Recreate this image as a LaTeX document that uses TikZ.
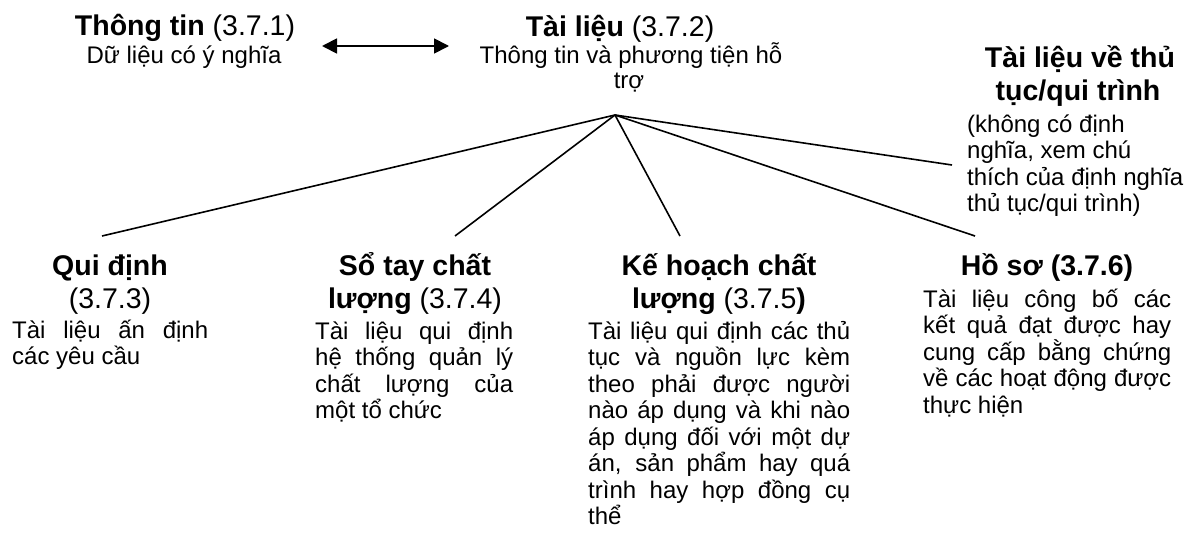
\documentclass[tikz,border=0pt]{standalone}
\usepackage{fontspec}
\setmainfont{Liberation Sans}
\usetikzlibrary{arrows.meta}
\newcommand\ttlfont{\fontsize{28.5}{33}\selectfont}
\newcommand\bdfont{\fontsize{24}{26.5}\selectfont}
\newcommand\jl[2]{\makebox[#1][s]{#2}}
\begin{document}
\begin{tikzpicture}[x=1pt,y=-1pt,
  ttl/.style={font=\ttlfont, anchor=base, inner sep=0pt},
  bdc/.style={font=\bdfont, anchor=base, inner sep=0pt},
  bdl/.style={font=\bdfont, anchor=base west, inner sep=0pt},
  conn/.style={line width=1.6pt},
  dbl/.style={line width=1.8pt, {Triangle[length=15pt,width=15pt]}-{Triangle[length=15pt,width=15pt]}}]
\useasboundingbox (0,0) rectangle (1191,538);
% top left
\node[ttl] (A1) at (185,35) {\textbf{Thông tin} (3.7.1)};
\node[bdc] (A2) at (184,63) {Dữ liệu có ý nghĩa};
% top middle
\node[ttl] (B1) at (620,36) {\textbf{Tài liệu} (3.7.2)};
\node[bdc] (B2) at (631,63) {Thông tin và phương tiện hỗ};
\node[bdc] (B3) at (629,88) {trợ};
% arrow
\coordinate (arrL) at (322,46);
\coordinate (arrR) at (449,46);
\draw[dbl] (arrL) -- (arrR);
% top right
\node[ttl] (C1) at (1080,67) {\textbf{Tài liệu về thủ}};
\node[ttl] (C2) at (1078,100) {\textbf{tục/qui trình}};
\node[bdl] (C3) at (967,132) {(không có định};
\node[bdl] (C4) at (967,158.5) {nghĩa, xem chú};
\node[bdl] (C5) at (967,185) {thích của định nghĩa};
\node[bdl] (C6) at (967,211.5) {thủ tục/qui trình)};
% hub and connectors
\coordinate (hub) at (615,115);
\coordinate (eC) at (952,165);
\coordinate (eD) at (102,236);
\coordinate (eE) at (455,236);
\coordinate (eF) at (680,236);
\coordinate (eG) at (975,236);
\foreach \e in {eC,eD,eE,eF,eG} \draw[conn] (hub) -- (\e);
% Qui dinh
\node[ttl] (D1) at (110,275) {\textbf{Qui định}};
\node[ttl] (D2) at (110,308) {(3.7.3)};
\node[bdl] (D3) at (12,338) {\jl{196pt}{Tài liệu ấn định}};
\node[bdl] (D4) at (12,364.5) {các yêu cầu};
% So tay
\node[ttl] (E1) at (415,275) {\textbf{Sổ tay chất}};
\node[ttl] (E2) at (415,308) {\textbf{lượng} (3.7.4)};
\node[bdl] (E3) at (315,339) {\jl{198pt}{Tài liệu qui định}};
\node[bdl] (E4) at (315,365.5) {\jl{198pt}{hệ thống quản lý}};
\node[bdl] (E5) at (315,392) {\jl{198pt}{chất lượng của}};
\node[bdl] (E6) at (315,418.5) {một tổ chức};
% Ke hoach
\node[ttl] (F1) at (719,275) {\textbf{Kế hoạch chất}};
\node[ttl] (F2) at (719,308) {\textbf{lượng} (3.7.5\textbf{)}};
\node[bdl] (F3) at (588,339) {\jl{262pt}{Tài liệu qui định các thủ}};
\node[bdl] (F4) at (588,365.5) {\jl{262pt}{tục và nguồn lực kèm}};
\node[bdl] (F5) at (588,392) {\jl{262pt}{theo phải được người}};
\node[bdl] (F6) at (588,418.5) {\jl{262pt}{nào áp dụng và khi nào}};
\node[bdl] (F7) at (588,445) {\jl{262pt}{áp dụng đối với một dự}};
\node[bdl] (F8) at (588,471.5) {\jl{262pt}{án, sản phẩm hay quá}};
\node[bdl] (F9) at (588,498) {\jl{262pt}{trình hay hợp đồng cụ}};
\node[bdl] (F10) at (588,524.5) {thể};
% Ho so
\node[ttl] (G1) at (1047,275) {\textbf{Hồ sơ (3.7.6)}};
\node[bdl] (G2) at (923,307) {\jl{248pt}{Tài liệu công bố các}};
\node[bdl] (G3) at (923,333.5) {\jl{248pt}{kết quả đạt được hay}};
\node[bdl] (G4) at (923,360) {\jl{248pt}{cung cấp bằng chứng}};
\node[bdl] (G5) at (923,386.5) {\jl{248pt}{về các hoạt động được}};
\node[bdl] (G6) at (923,413) {thực hiện};
\end{tikzpicture}
\end{document}
